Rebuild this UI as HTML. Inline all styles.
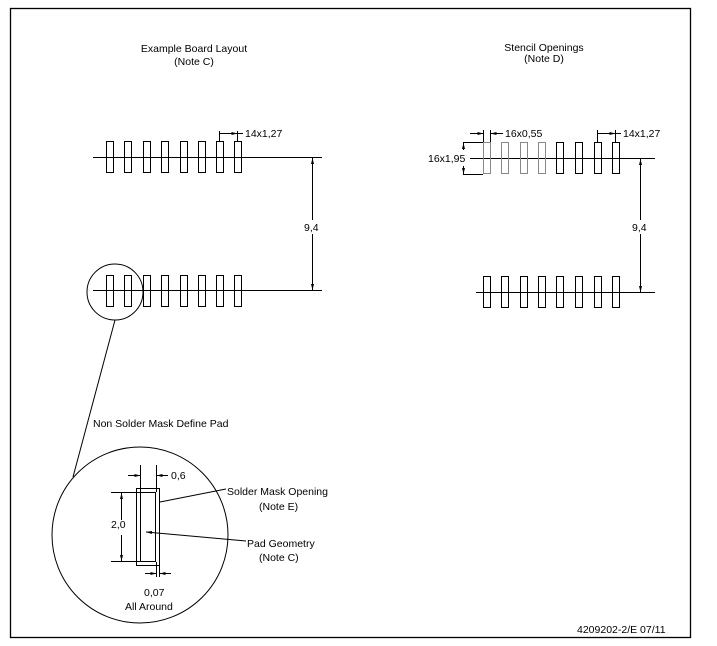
<!DOCTYPE html>
<html><head><meta charset="utf-8"><style>
html,body{margin:0;padding:0;background:#fff;}
svg{display:block;}
text{font-family:"Liberation Sans",sans-serif;font-size:10.5px;fill:#000;}
</style></head><body>
<svg width="717" height="646" viewBox="0 0 717 646" xmlns="http://www.w3.org/2000/svg">
<defs>
<marker id="a" markerWidth="6" markerHeight="6" refX="6" refY="3" orient="auto" markerUnits="userSpaceOnUse"><path d="M0,1.5 L6,3 L0,4.5z" fill="#000"/></marker>
</defs>
<rect x="10.5" y="8.5" width="680" height="629" fill="none" stroke="#000" stroke-width="1.3"/>
<g stroke="#000" fill="none" stroke-width="1">
<!-- left top -->
<line x1="93" y1="157.5" x2="322" y2="157.5"/>
<line x1="93" y1="290.5" x2="322" y2="290.5"/>
<g>
<rect x="106.5" y="141.5" width="7" height="31"/><rect x="124.5" y="141.5" width="7" height="31"/><rect x="143.5" y="141.5" width="7" height="31"/><rect x="161.5" y="141.5" width="7" height="31"/><rect x="180.5" y="141.5" width="7" height="31"/><rect x="198.5" y="141.5" width="7" height="31"/><rect x="216.5" y="141.5" width="7" height="31"/><rect x="234.5" y="141.5" width="7" height="31"/>
<rect x="106.5" y="275.5" width="7" height="31"/><rect x="124.5" y="275.5" width="7" height="31"/><rect x="143.5" y="275.5" width="7" height="31"/><rect x="161.5" y="275.5" width="7" height="31"/><rect x="180.5" y="275.5" width="7" height="31"/><rect x="198.5" y="275.5" width="7" height="31"/><rect x="216.5" y="275.5" width="7" height="31"/><rect x="234.5" y="275.5" width="7" height="31"/>
</g>
<line x1="219.5" y1="131" x2="219.5" y2="141"/>
<line x1="237.5" y1="131" x2="237.5" y2="141"/>
<line x1="219.5" y1="133.5" x2="237.5" y2="133.5" marker-end="url(#a)"/>
<line x1="237.5" y1="133.5" x2="243" y2="133.5"/>
<line x1="312.5" y1="220" x2="312.5" y2="158" marker-end="url(#a)"/>
<line x1="312.5" y1="234" x2="312.5" y2="290" marker-end="url(#a)"/>
<circle cx="115" cy="292" r="28"/>
<line x1="115" y1="320" x2="73" y2="477"/>
<circle cx="140" cy="535" r="88"/>
<!-- detail -->
<rect x="136.5" y="488.5" width="23" height="77"/>
<rect x="140.5" y="492.5" width="15" height="69"/>
<line x1="140.5" y1="465" x2="140.5" y2="492"/>
<line x1="156.5" y1="465" x2="156.5" y2="492"/>
<line x1="128" y1="475.5" x2="140.5" y2="475.5" marker-end="url(#a)"/>
<line x1="168" y1="475.5" x2="156.5" y2="475.5" marker-end="url(#a)"/>
<line x1="111" y1="492.5" x2="140" y2="492.5"/>
<line x1="111" y1="561.5" x2="140" y2="561.5"/>
<line x1="121.5" y1="520" x2="121.5" y2="493" marker-end="url(#a)"/>
<line x1="121.5" y1="535" x2="121.5" y2="561" marker-end="url(#a)"/>
<line x1="156.5" y1="562" x2="156.5" y2="577"/>
<line x1="159.5" y1="566" x2="159.5" y2="577"/>
<line x1="145" y1="573.5" x2="156.5" y2="573.5" marker-end="url(#a)"/>
<line x1="171" y1="573.5" x2="159.5" y2="573.5" marker-end="url(#a)"/>
<line x1="160" y1="502" x2="226" y2="489"/>
<line x1="246" y1="541" x2="146" y2="532" marker-end="url(#a)"/>
<!-- right -->
<line x1="476" y1="158.5" x2="655" y2="158.5"/>
<line x1="476" y1="292.5" x2="655" y2="292.5"/>
<g stroke="#888">
<rect x="483.5" y="142.5" width="7" height="31"/><rect x="501.5" y="142.5" width="7" height="31"/><rect x="520.5" y="142.5" width="7" height="31"/><rect x="538.5" y="142.5" width="7" height="31"/>
</g>
<rect x="556.5" y="142.5" width="7" height="31"/><rect x="575.5" y="142.5" width="7" height="31"/><rect x="594.5" y="142.5" width="7" height="31"/><rect x="612.5" y="142.5" width="7" height="31"/>
<rect x="483.5" y="276.5" width="7" height="31"/><rect x="501.5" y="276.5" width="7" height="31"/><rect x="520.5" y="276.5" width="7" height="31"/><rect x="538.5" y="276.5" width="7" height="31"/><rect x="556.5" y="276.5" width="7" height="31"/><rect x="575.5" y="276.5" width="7" height="31"/><rect x="594.5" y="276.5" width="7" height="31"/><rect x="612.5" y="276.5" width="7" height="31"/>
<line x1="483.5" y1="130" x2="483.5" y2="142"/>
<line x1="490.5" y1="130" x2="490.5" y2="142"/>
<line x1="470" y1="133.5" x2="483.5" y2="133.5" marker-end="url(#a)"/>
<line x1="503" y1="133.5" x2="490.5" y2="133.5" marker-end="url(#a)"/>
<line x1="463" y1="142.5" x2="483" y2="142.5"/>
<line x1="463" y1="174.5" x2="483" y2="174.5"/>
<line x1="463.5" y1="150" x2="463.5" y2="143" marker-end="url(#a)"/>
<line x1="463.5" y1="166" x2="463.5" y2="174" marker-end="url(#a)"/>
<line x1="476" y1="158.5" x2="470" y2="158.5"/>
<line x1="597.5" y1="130" x2="597.5" y2="142"/>
<line x1="615.5" y1="130" x2="615.5" y2="142"/>
<line x1="597.5" y1="133.5" x2="615.5" y2="133.5" marker-end="url(#a)"/>
<line x1="615.5" y1="133.5" x2="621" y2="133.5"/>
<line x1="640.5" y1="220" x2="640.5" y2="159" marker-end="url(#a)"/>
<line x1="640.5" y1="234" x2="640.5" y2="292" marker-end="url(#a)"/>
</g>
<text x="194" y="52" text-anchor="middle">Example Board Layout</text>
<text x="194" y="65" text-anchor="middle">(Note C)</text>
<text x="544" y="51" text-anchor="middle">Stencil Openings</text>
<text x="544" y="62" text-anchor="middle">(Note D)</text>
<text x="245" y="137">14x1,27</text>
<text x="304" y="231">9,4</text>
<text x="505" y="137">16x0,55</text>
<text x="623" y="137">14x1,27</text>
<text x="428" y="162">16x1,95</text>
<text x="632" y="231">9,4</text>
<text x="93" y="427">Non Solder Mask Define Pad</text>
<text x="171" y="479">0,6</text>
<text x="111" y="528">2,0</text>
<text x="144" y="596">0,07</text>
<text x="125" y="610">All Around</text>
<text x="227" y="495">Solder Mask Opening</text>
<text x="259" y="510">(Note E)</text>
<text x="247" y="547">Pad Geometry</text>
<text x="259" y="561">(Note C)</text>
<text x="577" y="633">4209202-2/E 07/11</text>
</svg>
</body></html>
